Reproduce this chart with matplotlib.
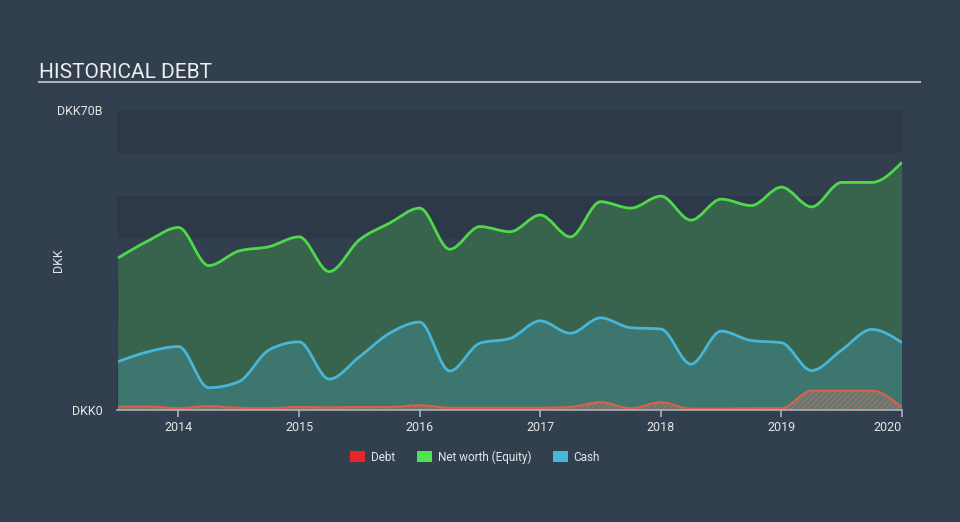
import matplotlib.pyplot as plt
import numpy as np
from matplotlib.path import Path
from matplotlib.patches import PathPatch

plt.rcParams['font.family'] = ['Roboto', 'DejaVu Sans']
plt.rcParams['hatch.linewidth'] = 0.8

# quarterly figures, DKK billions
quarters = np.arange(2013.5, 2020.01, 0.25)
net_worth = [35.5, 39.5, 42.6, 33.7, 37.1, 38.1, 40.4, 32.3, 39.7, 43.6, 47.1, 37.5, 42.8, 41.6,
             45.5, 40.4, 48.6, 47.1, 49.9, 44.3, 49.2, 47.7, 52.0, 47.4, 53.1, 53.1, 57.8]
cash = [11.3, 13.6, 14.8, 5.2, 6.6, 14.0, 15.9, 7.2, 12.4, 17.9, 20.5, 9.1, 15.6, 16.7,
        20.8, 17.9, 21.5, 19.2, 18.9, 10.7, 18.4, 16.2, 15.7, 9.2, 14.0, 18.8, 15.7]
debt = [0.8, 0.8, 0.4, 0.9, 0.5, 0.4, 0.7, 0.6, 0.7, 0.7, 1.1, 0.5, 0.5, 0.5,
        0.5, 0.7, 1.8, 0.4, 1.8, 0.3, 0.3, 0.4, 0.4, 4.5, 4.5, 4.5, 0.6]

year_ticks = [2014, 2015, 2016, 2017, 2018, 2019, 2020]
legend_names = ['Debt', 'Net worth (Equity)', 'Cash']
legend_colors = ['#e8262a', '#4fe34f', '#44b8dc']

bg = '#323f4f'


def tangents(x, y):
    # monotone cubic slopes (same rule as d3 curveMonotoneX)
    n = len(x)
    t = np.zeros(n)
    for i in range(1, n - 1):
        h0 = x[i] - x[i - 1]; h1 = x[i + 1] - x[i]
        s0 = (y[i] - y[i - 1]) / h0; s1 = (y[i + 1] - y[i]) / h1
        p = (s0 * h1 + s1 * h0) / (h0 + h1)
        t[i] = (np.sign(s0) + np.sign(s1)) * min(abs(s0), abs(s1), 0.5 * abs(p))
    t[0] = (3 * (y[1] - y[0]) / (x[1] - x[0]) - t[1]) / 2
    t[-1] = (3 * (y[-1] - y[-2]) / (x[-1] - x[-2]) - t[-2]) / 2
    return t


def smooth_path(x, y, area=False):
    y = np.asarray(y, dtype=float)
    t = tangents(x, y)
    verts = [(x[0], y[0])]; codes = [Path.MOVETO]
    for i in range(len(x) - 1):
        dx = x[i + 1] - x[i]
        verts += [(x[i] + dx / 3, y[i] + dx / 3 * t[i]),
                  (x[i + 1] - dx / 3, y[i + 1] - dx / 3 * t[i + 1]),
                  (x[i + 1], y[i + 1])]
        codes += [Path.CURVE4] * 3
    if area:
        verts += [(x[-1], 0), (x[0], 0), (x[0], y[0])]
        codes += [Path.LINETO, Path.LINETO, Path.CLOSEPOLY]
    return Path(verts, codes)


fig = plt.figure(figsize=(9.6, 5.22), dpi=100, facecolor=bg)
ax = fig.add_axes([117 / 960, 112 / 522, 785 / 960, 300 / 522])
ax.set_facecolor(bg)

for lo in [0, 20, 40, 60]:
    ax.axhspan(lo, lo + 10, color='#2d3949', lw=0, zorder=0)

ax.add_patch(PathPatch(smooth_path(quarters, net_worth, True), fc='#38634d', ec='none', zorder=1))
ax.add_patch(PathPatch(smooth_path(quarters, cash, True), fc='#3d756f', ec='none', zorder=2))
ax.add_patch(PathPatch(smooth_path(quarters, debt, True), fc='#5f7a74', ec='#b0705e',
                       hatch='//////', lw=0, zorder=3))

ax.add_patch(PathPatch(smooth_path(quarters, net_worth), fc='none', ec='#4fd94a', lw=2, zorder=4))
ax.add_patch(PathPatch(smooth_path(quarters, cash), fc='none', ec='#47b6d8', lw=2, zorder=4))
ax.add_patch(PathPatch(smooth_path(quarters, debt), fc='none', ec='#d9604a', lw=1.6, zorder=4))

ax.set_xlim(2013.49, 2020.0)
ax.set_ylim(0, 70)

for s in ['top', 'right', 'left']:
    ax.spines[s].set_visible(False)
ax.spines['bottom'].set_color('#a9b1ba')
ax.spines['bottom'].set_linewidth(1.2)
ax.spines['bottom'].set_zorder(5)

ax.set_xticks(year_ticks)
ax.set_xticklabels([str(y) for y in year_ticks])
ax.tick_params(axis='x', colors='#a9b1ba', labelcolor='#e6e6e6', labelsize=9,
               length=5, width=1.2, pad=3)
ax.get_xticklabels()[-1].set_horizontalalignment('right')

ax.set_yticks([0, 70])
ax.set_yticklabels(['DKK0', 'DKK70B'])
ax.tick_params(axis='y', labelcolor='#e6e6e6', labelsize=9, length=0, pad=10.5)
ax.get_yticklabels()[1].set_y(70.4)
ax.set_ylabel('DKK', color='#e6e6e6', fontsize=9)
ax.yaxis.set_label_coords(-0.066, 0.5)

fig.text(39 / 960, 1 - 78 / 522, 'HISTORICAL DEBT', color='#eeeeee', fontsize=15)
fig.add_artist(plt.Line2D([39 / 960, 920 / 960], [1 - 82 / 522] * 2, color='#a9b1ba', lw=1.5))

handles = [plt.Rectangle((0, 0), 1, 1, fc=c, ec='none') for c in legend_colors]
fig.legend(handles, legend_names, loc='center', bbox_to_anchor=(475 / 960, 1 - 457 / 522), ncol=3,
           frameon=False, fontsize=8.5, labelcolor='#e6e6e6', handlelength=1.3, handleheight=1.0,
           handletextpad=0.5, columnspacing=1.8)

fig.savefig('out.png', dpi=100, facecolor=bg)
